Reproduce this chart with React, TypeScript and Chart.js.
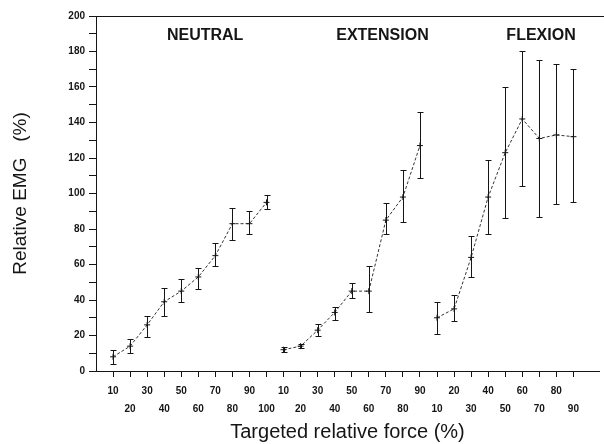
import React, { useEffect, useRef } from 'react';
import { Chart, registerables } from 'chart.js';

Chart.register(...registerables);

// Targeted relative force (%) per condition
const neutralForce = ['10', '20', '30', '40', '50', '60', '70', '80', '90', '100'];
const extensionForce = ['10', '20', '30', '40', '50', '60', '70', '80', '90'];
const flexionForce = ['10', '20', '30', '40', '50', '60', '70', '80', '90'];

// Relative EMG (%) mean and error-bar ends
const neutralMean = [8, 14, 26, 39, 45, 53, 65, 83, 83, 95];
const neutralLow = [4, 10, 19, 31, 39, 46, 59, 74, 77, 91];
const neutralHigh = [12, 18, 31, 47, 52, 58, 72, 92, 90, 99];

const extensionMean = [12, 14, 23, 33, 45, 45, 85, 98, 127];
const extensionLow = [10.5, 12.8, 20, 28.7, 41, 33, 77, 84, 109];
const extensionHigh = [13.3, 15.2, 26.5, 36, 49.4, 59, 94.5, 113, 146];

const flexionMean = [30, 35, 64, 98, 123, 142, 131, 133, 132];
const flexionLow = [21, 28, 53, 77, 86, 104, 87, 94, 95];
const flexionHigh = [39, 43, 76, 119, 160, 180, 175, 173, 170];

const conditionNames = ['NEUTRAL', 'EXTENSION', 'FLEXION'];
const yTicks = [0, 20, 40, 60, 80, 100, 120, 140, 160, 180, 200];

const groups = [
  { name: conditionNames[0], force: neutralForce, mean: neutralMean, low: neutralLow, high: neutralHigh, rowShift: 0, titleAt: 5.4 },
  { name: conditionNames[1], force: extensionForce, mean: extensionMean, low: extensionLow, high: extensionHigh, rowShift: 0, titleAt: 15.8 },
  { name: conditionNames[2], force: flexionForce, mean: flexionMean, low: flexionLow, high: flexionHigh, rowShift: 1, titleAt: 25.1 },
];

// sequential positions on the x axis
let cursor = 0;
const placed = groups.map((g) => {
  const start = cursor;
  cursor += g.force.length;
  return { ...g, start };
});
const totalPositions = cursor;

const tickLabelMap: Record<number, string[]> = {};
placed.forEach((g) => {
  g.force.forEach((f, i) => {
    const row = (i + g.rowShift) % 2;
    tickLabelMap[g.start + i] = row === 0 ? [f, ''] : ['', f];
  });
});

const INK = '#151515';
const FONT = '"Liberation Sans", Arial, Helvetica, sans-serif';

const errorBarPlugin = {
  id: 'errorBars',
  afterDatasetsDraw(chart: any) {
    const { ctx, chartArea } = chart;
    const xs = chart.scales.x;
    const ys = chart.scales.y;
    ctx.save();
    ctx.strokeStyle = INK;
    ctx.lineWidth = 1;
    placed.forEach((g) => {
      g.low.forEach((lo, i) => {
        const px = Math.round(xs.getPixelForValue(g.start + i)) + 0.5;
        const y1 = Math.round(ys.getPixelForValue(lo)) + 0.5;
        const y2 = Math.round(ys.getPixelForValue(g.high[i])) + 0.5;
        ctx.beginPath();
        ctx.moveTo(px, y1);
        ctx.lineTo(px, y2);
        ctx.moveTo(px - 3, y1);
        ctx.lineTo(px + 3, y1);
        ctx.moveTo(px - 3, y2);
        ctx.lineTo(px + 3, y2);
        ctx.stroke();
      });
    });
    // top frame line
    ctx.beginPath();
    ctx.moveTo(chartArea.left, chartArea.top + 0.5);
    ctx.lineTo(chart.width, chartArea.top + 0.5);
    ctx.stroke();
    // condition titles
    ctx.fillStyle = INK;
    ctx.font = `bold 16px ${FONT}`;
    ctx.textAlign = 'center';
    ctx.textBaseline = 'middle';
    placed.forEach((g) => {
      ctx.fillText(g.name, xs.getPixelForValue(g.titleAt), ys.getPixelForValue(189));
    });
    ctx.restore();
  },
};

export default function App() {
  const canvasRef = useRef<HTMLCanvasElement | null>(null);

  useEffect(() => {
    document.body.style.margin = '0';
    const canvas = canvasRef.current;
    if (!canvas) return;
    const datasets = placed.map((g) => ({
      label: g.name,
      data: g.mean.map((m, i) => ({ x: g.start + i, y: m })),
      borderColor: '#333333',
      borderWidth: 1,
      borderDash: [3, 2],
      pointStyle: 'cross' as const,
      pointRadius: 3,
      pointBorderColor: INK,
      pointBorderWidth: 1,
      fill: false,
      tension: 0,
    }));

    const chart = new Chart(canvas, {
      type: 'line',
      data: { datasets },
      plugins: [errorBarPlugin],
      options: {
        responsive: false,
        animation: false,
        layout: { padding: { top: 16, right: 4, left: 0, bottom: 0 } },
        plugins: { legend: { display: false }, tooltip: { enabled: false } },
        scales: {
          x: {
            type: 'linear',
            min: -1,
            max: totalPositions + 0.5,
            afterBuildTicks: (scale: any) => {
              scale.ticks = Object.keys(tickLabelMap).map((k) => ({ value: Number(k) }));
            },
            afterFit: (scale: any) => {
              scale.height = 73;
            },
            grid: { drawOnChartArea: false, drawTicks: true, tickLength: 6, color: INK },
            border: { display: true, color: INK, width: 1 },
            ticks: {
              autoSkip: false,
              maxRotation: 0,
              padding: 5,
              color: INK,
              font: { family: FONT, size: 10, weight: 'bold', lineHeight: 1.8 },
              callback: (v: any) => tickLabelMap[Number(v)] ?? '',
            },
            title: {
              display: true,
              text: 'Targeted relative force (%)',
              color: INK,
              font: { family: FONT, size: 20, lineHeight: 1.2 },
              padding: { top: 0, bottom: 0 },
            },
          },
          y: {
            type: 'linear',
            min: 0,
            max: 200,
            afterBuildTicks: (scale: any) => {
              const t: any[] = [];
              for (let v = 0; v <= 200; v += 10) t.push({ value: v });
              scale.ticks = t;
            },
            afterFit: (scale: any) => {
              scale.width = 96;
            },
            grid: { drawOnChartArea: false, drawTicks: true, tickLength: 7, color: INK },
            border: { display: true, color: INK, width: 1 },
            ticks: {
              padding: 4,
              color: INK,
              font: { family: FONT, size: 10, weight: 'bold' },
              callback: (v: any) => (yTicks.includes(Number(v)) ? String(v) : ''),
            },
            title: {
              display: true,
              text: 'Relative EMG   (%)',
              color: INK,
              font: { family: FONT, size: 19, lineHeight: 1.2 },
              padding: { top: 9, bottom: 0 },
            },
          },
        },
      },
    } as any);
    return () => chart.destroy();
  }, []);

  return (
    <div style={{ position: 'absolute', left: 0, top: 0, width: 604, height: 444, background: '#fff' }}>
      <canvas ref={canvasRef} width={604} height={444} />
    </div>
  );
}
